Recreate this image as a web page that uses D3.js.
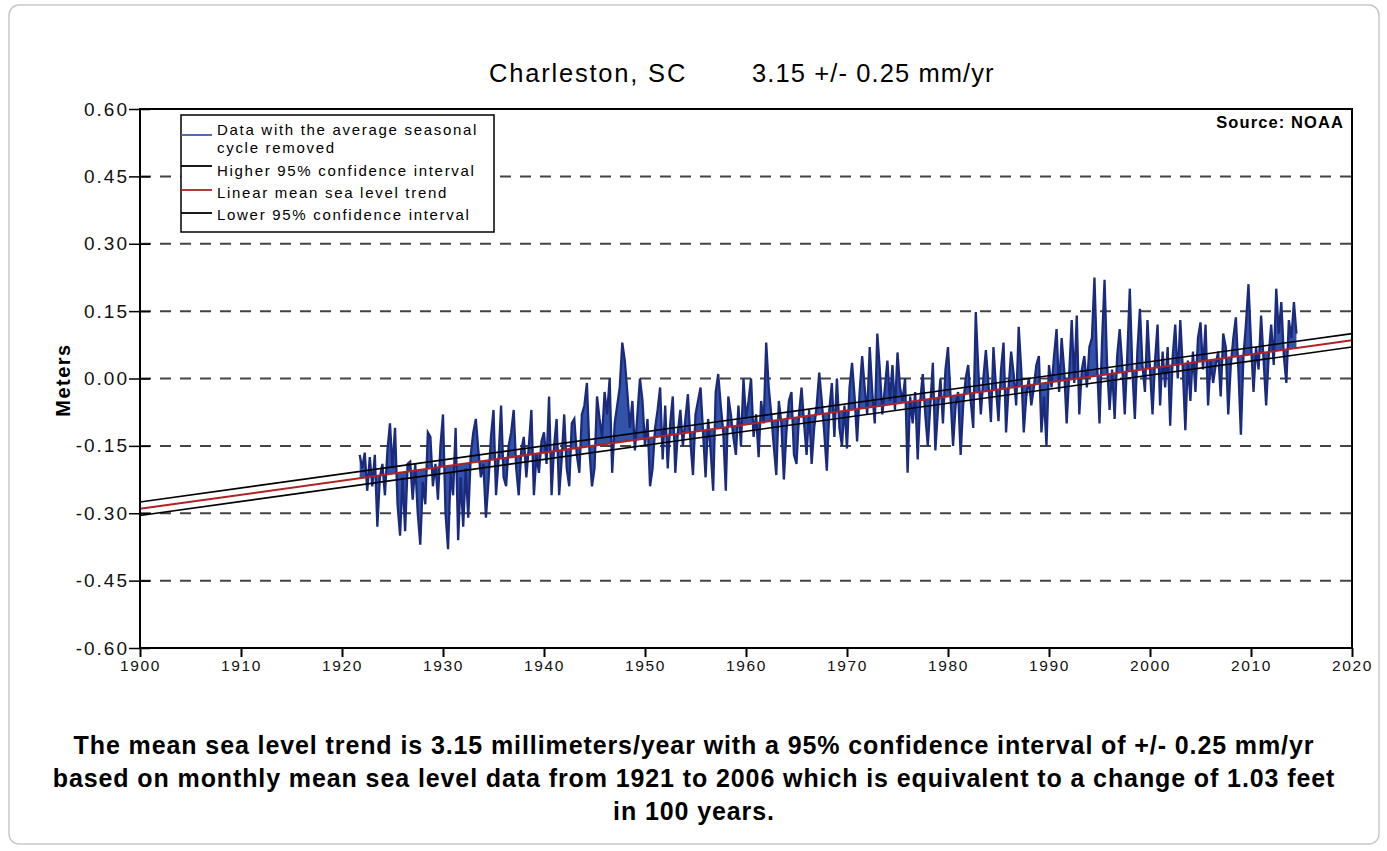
<!DOCTYPE html>
<html>
<head>
<meta charset="utf-8">
<script src="https://cdn.jsdelivr.net/npm/d3@7"></script>
<style>
  body { margin: 0; background: #fff; font-family: "Liberation Sans", Arial, sans-serif; }
</style>
</head>
<body>
<svg id="chart" width="1387" height="851"></svg>
<script>
// quarterly mean sea level (m), seasonal cycle removed
const startYear = 1921.75;
const step = 0.25;
const seaLevel = [
  -0.17,
  -0.20, -0.165, -0.25, -0.175,   // 1922
  -0.24, -0.17, -0.33, -0.22,
  -0.19, -0.26, -0.16, -0.10,
  -0.20, -0.11, -0.28, -0.35,
  -0.22, -0.34, -0.19, -0.185,
  -0.27, -0.19, -0.30, -0.37,
  -0.23, -0.28, -0.12, -0.13,
  -0.24, -0.19, -0.27, -0.15,
  -0.08, -0.30, -0.38, -0.21,     // 1930
  -0.26, -0.11, -0.36, -0.22,
  -0.33, -0.20, -0.31, -0.17,
  -0.12, -0.09, -0.16, -0.22,
  -0.19, -0.31, -0.23, -0.13,
  -0.07, -0.26, -0.18, -0.06,
  -0.22, -0.24, -0.15, -0.12,
  -0.07, -0.20, -0.26, -0.16,
  -0.13, -0.22, -0.15, -0.07,
  -0.26, -0.17, -0.21, -0.14,
  -0.12, -0.19, -0.04, -0.26,     // 1940
  -0.15, -0.09, -0.26, -0.18,
  -0.08, -0.20, -0.24, -0.10,
  -0.09, -0.17, -0.21, -0.08,
  -0.06, -0.01, -0.16, -0.24,
  -0.20, -0.04, -0.09, -0.13,
  -0.03, -0.08, 0.00, -0.21,
  -0.10, -0.06, -0.02, 0.08,
  0.04, -0.03, -0.11, -0.05,
  -0.16, -0.08, 0.00, -0.05,
  -0.15, -0.09, -0.24, -0.20,     // 1950
  -0.11, -0.07, -0.02, -0.18,
  -0.06, -0.20, -0.10, -0.04,
  -0.21, -0.12, -0.07, -0.15,
  -0.09, -0.035, -0.14, -0.215,
  -0.08, -0.05, -0.02, -0.12,
  -0.22, -0.09, -0.16, -0.25,
  -0.03, 0.01, -0.06, -0.12,
  -0.25, -0.04, -0.08, -0.13,
  -0.17, -0.06, -0.15, 0.00,
  -0.09, -0.05, 0.00, -0.13,      // 1960
  -0.08, -0.175, -0.05, -0.10,
  0.08, -0.02, -0.08, -0.15,
  -0.215, -0.05, -0.10, -0.225,
  -0.12, -0.05, -0.03, -0.17,
  -0.19, -0.08, -0.02, -0.10,
  -0.17, -0.07, -0.19, -0.11,
  -0.06, 0.013, -0.05, -0.12,
  -0.205, -0.07, -0.01, -0.13,
  0.00, -0.11, -0.15, -0.06,
  -0.156, -0.02, 0.035, -0.04,    // 1970
  -0.14, -0.03, 0.05, -0.02,
  -0.08, 0.07, -0.03, -0.10,
  0.10, 0.02, -0.08, -0.02,
  0.04, -0.05, 0.03, -0.07,
  0.058, -0.02, -0.05, 0.00,
  -0.21, -0.04, -0.10, -0.03,
  -0.18, -0.05, 0.01, -0.08,
  -0.15, -0.06, 0.035, -0.16,
  -0.07, 0.00, -0.10, 0.02,
  0.07, -0.04, -0.15, -0.06,      // 1980
  -0.03, -0.17, -0.06, 0.00,
  0.03, -0.05, -0.11, 0.148,
  0.02, -0.08, 0.00, 0.063,
  -0.01, -0.097, 0.07, -0.02,
  -0.095, 0.02, 0.08, -0.12,
  -0.02, 0.06, 0.01, -0.06,
  0.115, 0.02, -0.12, -0.04,
  0.00, -0.06, -0.02, 0.03,
  0.05, -0.12, -0.04, -0.15,
  0.03, -0.02, 0.05, 0.11,        // 1990
  -0.03, 0.09, 0.02, -0.10,
  0.01, 0.13, -0.01, 0.14,
  -0.08, 0.02, 0.05, -0.02,
  0.07, 0.09, 0.225, 0.04,
  -0.10, 0.08, 0.22, 0.03,
  -0.07, 0.02, -0.09, 0.05,
  0.11, 0.03, -0.08, 0.05,
  0.20, 0.02, -0.09, 0.06,
  0.155, 0.03, -0.03, 0.13,
  0.02, -0.08, 0.04, 0.12,        // 2000
  -0.06, 0.06, -0.02, 0.07,
  -0.105, 0.05, 0.12, 0.00,
  0.13, 0.02, -0.115, 0.04,
  -0.05, 0.06, -0.03, 0.09,
  0.125, 0.02, 0.12, -0.06,
  0.04, -0.01, 0.03, 0.06,
  -0.04, 0.10, 0.07, -0.08,
  0.03, 0.09, 0.136, 0.02,
  -0.125, 0.05, 0.12, 0.21,
  0.08, -0.03, 0.07, 0.02,        // 2010
  0.14, 0.04, -0.06, 0.05,
  0.12, 0.03, 0.20, 0.10,
  0.17, 0.05, -0.01, 0.13,
  0.09, 0.17, 0.10
];

// linear trend and 95% confidence lines at the ends of the axis
const trendYears = [1900, 2020];
const trendMean = [-0.29, 0.085];
const trendUpper = [-0.275, 0.10];
const trendLower = [-0.305, 0.07];

const xTicks = [1900, 1910, 1920, 1930, 1940, 1950, 1960, 1970, 1980, 1990, 2000, 2010, 2020];
const yTicks = [0.60, 0.45, 0.30, 0.15, 0.00, -0.15, -0.30, -0.45, -0.60];
const gridValues = [0.45, 0.30, 0.15, 0.00, -0.15, -0.30, -0.45];

const legendLabels = [
  ["Data with the average seasonal", "cycle removed"],
  ["Higher 95% confidence interval"],
  ["Linear mean sea level trend"],
  ["Lower 95% confidence interval"]
];
const legendColors = ["#3b5cb0", "#000", "#b22222", "#000"];

const captionLines = [
  "The mean sea level trend is 3.15 millimeters/year with a 95% confidence interval of +/- 0.25 mm/yr",
  "based on monthly mean sea level data from 1921 to 2006 which is equivalent to a change of 1.03 feet",
  "in 100 years."
];

const svg = d3.select("#chart");
const plotLeft = 140, plotRight = 1352, plotTop = 109, plotBottom = 648;

const x = d3.scaleLinear().domain([1900, 2020]).range([plotLeft, plotRight]);
const y = d3.scaleLinear().domain([-0.6, 0.6]).range([plotBottom, plotTop]);

// outer rounded frame
svg.append("rect")
  .attr("x", 9).attr("y", 5).attr("width", 1370).attr("height", 839)
  .attr("rx", 10)
  .attr("fill", "#fff").attr("stroke", "#c8c8c8").attr("stroke-width", 1.5);

// title
svg.append("text")
  .attr("x", 489).attr("y", 82)
  .style("font-size", "25.5px").style("letter-spacing", "1.8px")
  .text("Charleston, SC");
svg.append("text")
  .attr("x", 752).attr("y", 82)
  .style("font-size", "25.5px").style("letter-spacing", "1.1px")
  .text("3.15 +/- 0.25 mm/yr");

// dashed grid
svg.append("g")
  .selectAll("line")
  .data(gridValues)
  .join("line")
  .attr("x1", plotLeft).attr("x2", plotRight)
  .attr("y1", d => y(d)).attr("y2", d => y(d))
  .attr("stroke", "#444").attr("stroke-width", 2)
  .attr("stroke-dasharray", "11,9");

// data: filled towards the trend line, dark outline
const points = seaLevel.map((v, i) => ({ t: startYear + i * step, v }));
const trendAt = t => trendMean[0] + (trendMean[1] - trendMean[0]) * (t - trendYears[0]) / (trendYears[1] - trendYears[0]);

svg.append("path")
  .datum(points)
  .attr("fill", "#3253a8")
  .attr("d", d3.area().x(d => x(d.t)).y0(d => y(trendAt(d.t))).y1(d => y(d.v)));

svg.append("path")
  .datum(points)
  .attr("fill", "none")
  .attr("stroke", "#1a2b7e")
  .attr("stroke-width", 2.3)
  .attr("stroke-linejoin", "miter")
  .attr("d", d3.line().x(d => x(d.t)).y(d => y(d.v)));

// trend lines
const trendLine = vals => d3.line().x((d, i) => x(trendYears[i])).y(d => y(d))(vals);
svg.append("path").attr("d", trendLine(trendUpper)).attr("stroke", "#000").attr("stroke-width", 1.6).attr("fill", "none");
svg.append("path").attr("d", trendLine(trendLower)).attr("stroke", "#000").attr("stroke-width", 1.6).attr("fill", "none");
svg.append("path").attr("d", trendLine(trendMean)).attr("stroke", "#b22222").attr("stroke-width", 2).attr("fill", "none");

// plot frame
svg.append("rect")
  .attr("x", plotLeft).attr("y", plotTop)
  .attr("width", plotRight - plotLeft).attr("height", plotBottom - plotTop)
  .attr("fill", "none").attr("stroke", "#000").attr("stroke-width", 2);

// y axis
const yAxis = svg.append("g")
  .attr("transform", `translate(${plotLeft},0)`)
  .call(d3.axisLeft(y).tickValues(yTicks).tickFormat(d => d.toFixed(2)).tickSize(11).tickPadding(4));
yAxis.select(".domain").remove();
yAxis.selectAll(".tick line").attr("x1", 10).attr("stroke-width", 1.5);
yAxis.selectAll(".tick text")
  .attr("x", -11)
  .style("font-family", "'Liberation Sans', Arial, sans-serif")
  .style("font-size", "19px").style("letter-spacing", "2px")
  .attr("fill", "#111");

// x axis
const xAxis = svg.append("g")
  .attr("transform", `translate(0,${plotBottom})`)
  .call(d3.axisBottom(x).tickValues(xTicks).tickFormat(d => d).tickSize(9).tickPadding(3));
xAxis.select(".domain").remove();
xAxis.selectAll(".tick line").attr("stroke-width", 2);
xAxis.selectAll(".tick text")
  .style("font-family", "'Liberation Sans', Arial, sans-serif")
  .style("font-size", "15.5px").style("letter-spacing", "1.6px")
  .attr("fill", "#111");

// axis title
svg.append("text")
  .attr("transform", "translate(70,380) rotate(-90)")
  .attr("text-anchor", "middle")
  .style("font-size", "20px").style("font-weight", "bold").style("letter-spacing", "1.5px")
  .text("Meters");

// source
svg.append("text")
  .attr("x", 1344).attr("y", 128)
  .attr("text-anchor", "end")
  .style("font-size", "16.5px").style("font-weight", "bold").style("letter-spacing", "1.1px")
  .text("Source: NOAA");

// legend
const legend = svg.append("g");
legend.append("rect")
  .attr("x", 181).attr("y", 115).attr("width", 313).attr("height", 117)
  .attr("fill", "#fff").attr("stroke", "#000").attr("stroke-width", 1.5);

const legendLineY = [135, 166, 190, 213];
const legendTextY = [[135, 152.5], [175.5], [197.5], [220]];
legendLabels.forEach((lines, i) => {
  legend.append("line")
    .attr("x1", 181).attr("x2", 212)
    .attr("y1", legendLineY[i]).attr("y2", legendLineY[i])
    .attr("stroke", legendColors[i]).attr("stroke-width", 1.8);
  lines.forEach((txt, j) => {
    legend.append("text")
      .attr("x", 217).attr("y", legendTextY[i][j])
      .style("font-size", "15px").style("letter-spacing", "1.7px")
      .text(txt);
  });
});

// caption
svg.append("g")
  .selectAll("text")
  .data(captionLines)
  .join("text")
  .attr("x", 694)
  .attr("y", (d, i) => 754 + i * 33)
  .attr("text-anchor", "middle")
  .style("font-size", "25px").style("font-weight", "bold").style("letter-spacing", "0.9px")
  .text(d => d);
</script>
</body>
</html>
